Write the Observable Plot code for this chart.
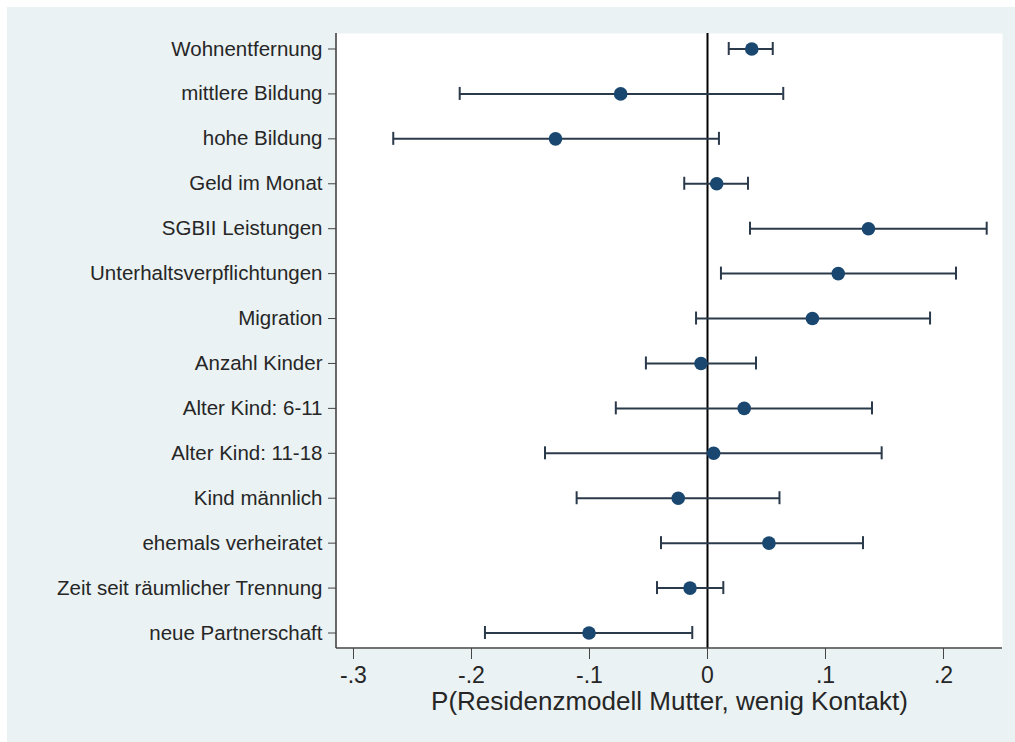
<!DOCTYPE html>
<html>
<head>
<meta charset="utf-8">
<script src="https://cdn.jsdelivr.net/npm/d3@7"></script>
<script src="https://cdn.jsdelivr.net/npm/@observablehq/plot@0.6"></script>
<style>
  html, body { margin: 0; padding: 0; background: #ffffff; }
  #wrap { position: relative; width: 1015px; height: 742px; }
  #bg { position: absolute; left: 7px; top: 7px; right: 0; bottom: 0; background: #eaf2f3; }
  #chart { position: absolute; left: 0; top: 0; }
  #chart svg { font-family: "Liberation Sans", Arial, sans-serif; }
</style>
</head>
<body>
<div id="wrap"><div id="bg"></div><div id="chart"></div></div>
<script>
// Covariates (top to bottom)
const variables = [
  "Wohnentfernung",
  "mittlere Bildung",
  "hohe Bildung",
  "Geld im Monat",
  "SGBII Leistungen",
  "Unterhaltsverpflichtungen",
  "Migration",
  "Anzahl Kinder",
  "Alter Kind: 6-11",
  "Alter Kind: 11-18",
  "Kind männlich",
  "ehemals verheiratet",
  "Zeit seit räumlicher Trennung",
  "neue Partnerschaft"
];
// Average marginal effects and 95% confidence bounds
const estimates = [0.0375, -0.0736, -0.1288, 0.0078, 0.1364, 0.1108, 0.0889, -0.0055, 0.0311, 0.0052, -0.0248, 0.0521, -0.0148, -0.1004];
const lower     = [0.0180, -0.2100, -0.2663, -0.0197, 0.0360, 0.0114, -0.0097, -0.0522, -0.0777, -0.1377, -0.1109, -0.0394, -0.0428, -0.1886];
const upper     = [0.0553, 0.0642, 0.0097, 0.0343, 0.2366, 0.2106, 0.1886, 0.0411, 0.1394, 0.1476, 0.0610, 0.1318, 0.0134, -0.0129];

const xTicks = [-0.3, -0.2, -0.1, 0, 0.1, 0.2];
const xTickLabels = ["-.3", "-.2", "-.1", "0", ".1", ".2"];
const xTitle = "P(Residenzmodell Mutter, wenig Kontakt)";

const rows = variables.map((name, i) => ({name, est: estimates[i], lo: lower[i], hi: upper[i]}));

const barColor = "#2b3a4a";
const dotColor = "#1a476f";
const axisColor = "#444444";
const textColor = "#262626";
const mTop = 33, mBottom = 94, H = 742;

// short vertical caps at both ends of each confidence interval
const cap = (field) => Plot.ruleX(rows, {
  x: field, y1: "name", y2: "name",
  insetTop: -6.5, insetBottom: -6.5,
  stroke: barColor, strokeWidth: 2
});

const plot = Plot.plot({
  width: 1015,
  height: H,
  marginLeft: 336,
  marginRight: 13,
  marginTop: mTop,
  marginBottom: mBottom,
  style: {background: "transparent", color: textColor, fontFamily: "Liberation Sans, Arial, sans-serif"},
  x: {domain: [-0.3144, 0.25]},
  y: {type: "point", domain: variables, padding: 0.345, round: false},
  marks: [
    Plot.frame({fill: "white", stroke: null}),
    Plot.ruleX([0], {stroke: "black", strokeWidth: 2}),
    Plot.ruleY(rows, {y: "name", x1: "lo", x2: "hi", stroke: barColor, strokeWidth: 2}),
    cap("lo"),
    cap("hi"),
    Plot.dot(rows, {y: "name", x: "est", r: 6.8, fill: dotColor, stroke: null}),
    Plot.axisY({tickSize: 8, tickPadding: 6, fontSize: 20.5, label: null, stroke: axisColor, fill: textColor}),
    Plot.axisX({ticks: xTicks, tickFormat: (d) => xTickLabels[xTicks.indexOf(d)], tickSize: 11, tickPadding: 7, fontSize: 23, label: null, stroke: axisColor, fill: textColor}),
    Plot.text([xTitle], {frameAnchor: "bottom", dy: 61, fontSize: 26, fill: textColor, text: d => d})
  ]
});

// Left and bottom axis lines along the plot region
const xr = plot.scale("x").range;
const svg = d3.select(plot);
const yTop = mTop, yBottom = H - mBottom;
svg.append("line").attr("x1", xr[0]).attr("x2", xr[0]).attr("y1", yTop).attr("y2", yBottom)
  .attr("stroke", axisColor).attr("stroke-width", 1.6);
svg.append("line").attr("x1", xr[0]).attr("x2", xr[1]).attr("y1", yBottom).attr("y2", yBottom)
  .attr("stroke", axisColor).attr("stroke-width", 1.6);

document.getElementById("chart").appendChild(plot);
</script>
</body>
</html>
